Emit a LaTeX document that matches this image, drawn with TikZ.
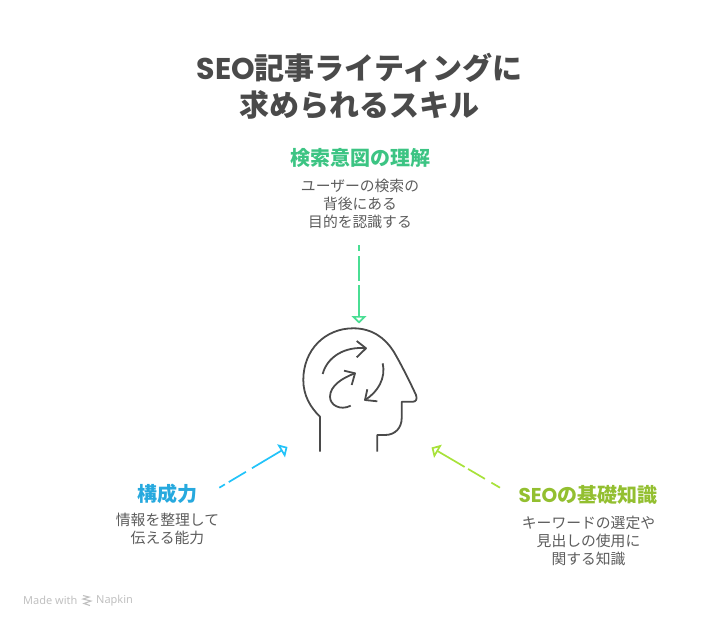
\documentclass[tikz,border=0pt]{standalone}
\usepackage{fontspec}
\usetikzlibrary{arrows.meta}
\newfontfamily\jpfont{Noto Sans CJK JP}
\newfontfamily\seofont{Poppins}
\newfontfamily\footfont{Noto Sans}
\definecolor{inkgray}{HTML}{4A4A4A}
\definecolor{greenline}{HTML}{4ADE94}
\definecolor{greentext}{HTML}{3CC483}
\definecolor{blueline}{HTML}{22C3F9}
\definecolor{bluetext}{HTML}{27A9DE}
\definecolor{limeline}{HTML}{A8E23A}
\definecolor{limetext}{HTML}{93BF30}
\begin{document}
\begin{tikzpicture}[x=1pt,y=-1pt,
        title/.style = {inkgray,align=center,font=\jpfont\bfseries\fontsize{30}{37}\selectfont},
        heading/.style = {align=center,font=\jpfont\bfseries\fontsize{20}{24}\selectfont},
        body/.style = {inkgray!90,align=center,font=\jpfont\fontsize{14.8}{17.7}\selectfont},
        footer/.style = {anchor=west,inner sep=0pt,inkgray!35,font=\footfont\fontsize{11}{12}\selectfont},
        head/.style = {inkgray,line width=1.8pt,line join=round},
        arrow/.style = {line width=1.7pt,-{Triangle[open,length=7.5pt,width=15pt,fill=white]}}]
                \useasboundingbox (0,0) rectangle (719,628);

                \node[title] (title) at (359.5,86) {{\seofont SEO}記事ライティングに\\求められるスキル};

                \node[heading,greentext] (intent) at (360.5,158) {検索意図の理解};
                \node[body] (intentbody) at (360,204) {ユーザーの検索の\\背後にある\\目的を認識する};
                \node[heading,bluetext] (structure) at (167.5,493.5) {構成力};
                \node[body] (structurebody) at (167.5,529) {情報を整理して\\伝える能力};
                \node[heading,limetext] (basics) at (588,494.5) {{\seofont SEO}の基礎知識};
                \node[body] (basicsbody) at (588.5,541) {キーワードの選定や\\見出しの使用に\\関する知識};

                \coordinate (intentstart) at (359,245);
                \coordinate (intentend) at (359,323.5);
                \coordinate (structurestart) at (219.3,487.7);
                \coordinate (structureend) at (287.5,447);
                \coordinate (basicsstart) at (500,487.7);
                \coordinate (basicsend) at (431.5,447.5);

                \draw[arrow,greenline,dash pattern=on 6pt off 5pt on 25pt off 4pt on 40pt]
                    (intentstart) -- (intentend);
                \draw[arrow,blueline,dash pattern=on 6.5pt off 4.5pt on 20pt off 7pt on 40pt]
                    (structurestart) -- (structureend);
                \draw[arrow,limeline,dash pattern=on 10pt off 7.5pt on 19.5pt off 4pt on 40pt]
                    (basicsstart) -- (basicsend);

                % head outline
                \draw[head] (320,451.7) -- (320,416.7)
                    .. controls (310,407) and (303.3,395) .. (303.3,380)
                    .. controls (303.3,350) and (325,328.3) .. (353.3,328.3)
                    .. controls (372,328.3) and (385,338) .. (393.3,351)
                    .. controls (400,362) and (410,382) .. (416,395)
                    .. controls (417.5,399) and (416,401.7) .. (413,401.7)
                    -- (401.7,401.7) -- (401.7,418)
                    .. controls (401.7,428) and (395,435) .. (385,435)
                    -- (377.3,435) -- (377.3,451.7);

                % arrows inside the head
                \draw[head] (322.7,374) .. controls (327,357) and (345,346) .. (366,348.3);
                \draw[head] (356.7,341) -- (366,348.3) -- (356.7,357.3);
                \draw[head] (382.7,363.3) .. controls (386,378) and (378,392) .. (365,400);
                \draw[head] (367.3,389.3) -- (365,400) -- (377.3,401.3);
                \draw[head] (350.7,405.7) .. controls (340,411) and (330,405) .. (330,396.7)
                    .. controls (330,386) and (342,378) .. (355,373.3);
                \draw[head] (344,370.7) -- (355,373.3) -- (351.7,385);

                % footer
                \node[footer] (made) at (23,600.5) {Made with};
                \node[footer] (napkin) at (96,600.5) {Napkin};
                \draw[inkgray!35,line width=1.1pt] (83,595.5) -- (89,597) -- (83,599) -- (91,601) -- (84,603.5) -- (90,605.5);
\end{tikzpicture}
\end{document}
